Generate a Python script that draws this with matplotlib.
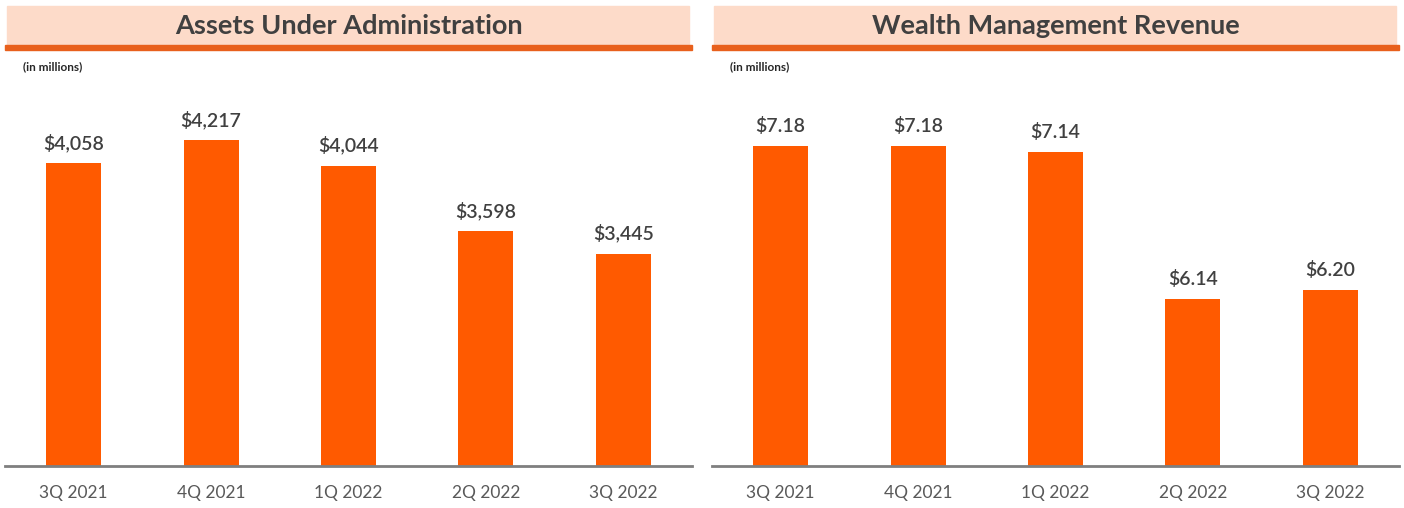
import numpy as np
import matplotlib.pyplot as plt
from matplotlib.patches import Rectangle

quarters = ['3Q 2021', '4Q 2021', '1Q 2022', '2Q 2022', '3Q 2022']
aua = [4058, 4217, 4044, 3598, 3445]
aua_labels = ['$4,058', '$4,217', '$4,044', '$3,598', '$3,445']
wm_rev = [7.18, 7.18, 7.14, 6.14, 6.20]
wm_labels = ['$7.18', '$7.18', '$7.14', '$6.14', '$6.20']

W, H = 1404, 508
bar_col = '#FF5A00'
pink = '#FDDBC9'
line_col = '#E8601C'
txt = '#404040'

plt.rcParams['font.family'] = ['Lato', 'DejaVu Sans']

fig = plt.figure(figsize=(W/100, H/100), dpi=100)

def px(x0, y0, w, h):
    # pixel box (top-left origin) -> figure fraction
    return [x0/W, 1 - (y0+h)/H, w/W, h/H]

def panel(x0, x1, vals, labels, ymin, ymax, title):
    ax = fig.add_axes(px(x0, 60, x1-x0, 406))
    x = np.arange(len(vals))
    ax.bar(x, [v - ymin for v in vals], bottom=ymin, width=0.40, color=bar_col)
    for xi, v, lab in zip(x, vals, labels):
        ax.annotate(lab, (xi, v), xytext=(0, 8), textcoords='offset points',
                    ha='center', va='bottom', fontsize=14, fontweight='semibold',
                    color=txt)
    ax.set_xlim(-0.5, len(vals)-0.5)
    ax.set_ylim(ymin, ymax)
    ax.set_xticks(x)
    ax.set_xticklabels(quarters, fontsize=12.5, color='#595959')
    ax.tick_params(axis='x', length=0, pad=14)
    ax.set_yticks([])
    for s in ['top', 'right', 'left']:
        ax.spines[s].set_visible(False)
    ax.spines['bottom'].set_color('#7F7F7F')
    ax.spines['bottom'].set_linewidth(2)

    # title band
    fig.patches.append(Rectangle((x0/W + 2/W, 1 - 45/H), (x1-x0-5)/W, 39/H,
                                 transform=fig.transFigure, color=pink, zorder=0))
    fig.patches.append(Rectangle((x0/W, 1 - 50/H), (x1-x0)/W, 5/H,
                                 transform=fig.transFigure, color=line_col, zorder=1))
    fig.text((x0+x1)/2/W, 1 - 26/H, title, ha='center', va='center',
             fontsize=19.5, fontweight='bold', color=txt)
    fig.text((x0+18)/W, 1 - 67/H, '(in millions)', ha='left', va='center',
             fontsize=8.5, fontweight='bold', color='#262626')
    return ax

panel(5, 692, aua, aua_labels, 2000, 2000 + 406/0.147, 'Assets Under Administration')
panel(712, 1399, wm_rev, wm_labels, 5.0, 5.0 + 406/146.7, 'Wealth Management Revenue')

fig.savefig('out.png', dpi=100)
